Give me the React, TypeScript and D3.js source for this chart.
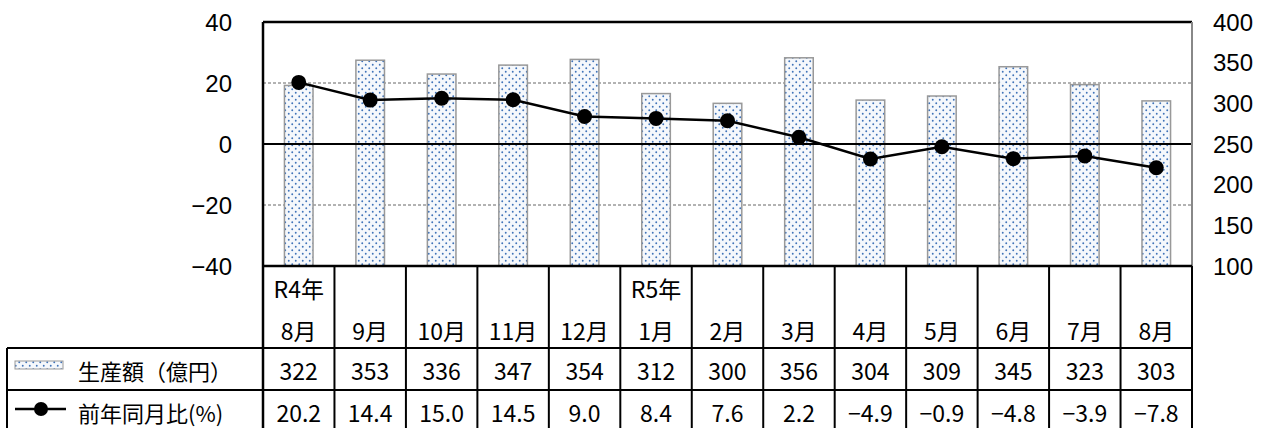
import React from 'react';
import * as d3 from 'd3';

// chart data
const yearLabels = ['R4年', '', '', '', '', 'R5年', '', '', '', '', '', '', ''];
const monthLabels = ['8月', '9月', '10月', '11月', '12月', '1月', '2月', '3月', '4月', '5月', '6月', '7月', '8月'];
const production = [322, 353, 336, 347, 354, 312, 300, 356, 304, 309, 345, 323, 303];
const yoy = [20.2, 14.4, 15.0, 14.5, 9.0, 8.4, 7.6, 2.2, -4.9, -0.9, -4.8, -3.9, -7.8];
const leftTicks = [40, 20, 0, -20, -40];
const rightTicks = [400, 350, 300, 250, 200, 150, 100];
const seriesNames = ['生産額（億円）', '前年同月比(%)'];

const W = 1265;
const H = 428;
const plotL = 263;
const plotR = 1192;
const plotT = 22;
const plotB = 266;
const headerB = 348;
const row1B = 390;
const row2B = 432;
const legendL = 7;

const fmtMinus = (v: number, digits: number) => {
  const s = Math.abs(v).toFixed(digits);
  return v < 0 ? '−' + s : s;
};

const App = () => {
  const idx = monthLabels.map((_, i) => String(i));
  const x = d3.scaleBand().domain(idx).range([plotL, plotR]).paddingInner(0).paddingOuter(0);
  const yL = d3.scaleLinear().domain([-40, 40]).range([plotB, plotT]);
  const yR = d3.scaleLinear().domain([100, 400]).range([plotB, plotT]);
  const bw = x.bandwidth();
  const barW = bw * 0.4;
  const cx = (i: number) => (x(String(i)) as number) + bw / 2;

  const line = d3.line<number>()
    .x((_, i) => cx(i))
    .y((d) => yL(d));

  const tableFont = '"Noto Sans CJK JP", "Noto Sans", sans-serif';
  const axisFont = '"Liberation Sans", Arial, sans-serif';
  const tSize = 23;

  return (
    <svg width={W} height={H} style={{ position: 'fixed', left: 0, top: 0, background: '#fff' }}>
      <defs>
        <pattern id="dots" width="7" height="7" patternUnits="userSpaceOnUse">
          <rect width="7" height="7" fill="#f5f8fc" />
          <circle cx="1.75" cy="1.75" r="0.95" fill="#3f72b8" />
          <circle cx="5.25" cy="5.25" r="0.95" fill="#3f72b8" />
        </pattern>
      </defs>

      {/* gridlines */}
      {leftTicks.filter((t) => t === 20 || t === -20).map((t) => (
        <line key={'g' + t} x1={plotL} x2={plotR} y1={yL(t)} y2={yL(t)}
          stroke="#666" strokeWidth={1} strokeDasharray="3,2" />
      ))}

      {/* bars */}
      {production.map((v, i) => (
        <rect key={'b' + i} x={cx(i) - barW / 2} y={yR(v)} width={barW} height={plotB - yR(v)}
          fill="url(#dots)" stroke="#999" strokeWidth={1.5} />
      ))}

      {/* zero line */}
      <line x1={plotL} x2={plotR} y1={yL(0)} y2={yL(0)} stroke="#000" strokeWidth={2} />

      {/* yoy line */}
      <path d={line(yoy) || ''} fill="none" stroke="#000" strokeWidth={2.5} />
      {yoy.map((v, i) => (
        <circle key={'p' + i} cx={cx(i)} cy={yL(v)} r={7.5} fill="#000" />
      ))}

      {/* plot frame */}
      <line x1={plotL} x2={plotR} y1={plotT} y2={plotT} stroke="#000" strokeWidth={2.5} />
      <line x1={plotR} x2={plotR} y1={plotT} y2={plotB} stroke="#888" strokeWidth={2} />
      <line x1={plotL} x2={plotL} y1={plotT} y2={row2B} stroke="#000" strokeWidth={2.5} />

      {/* left axis */}
      {leftTicks.map((t) => (
        <text key={'l' + t} x={232} y={yL(t)} textAnchor="end" dominantBaseline="central"
          fontFamily={axisFont} fontSize={24} fill="#000">{fmtMinus(t, 0)}</text>
      ))}

      {/* right axis */}
      {rightTicks.map((t) => (
        <text key={'r' + t} x={1213} y={yR(t)} textAnchor="start" dominantBaseline="central"
          fontFamily={axisFont} fontSize={24} fill="#000">{t}</text>
      ))}

      {/* data table lines */}
      <line x1={plotL} x2={plotR} y1={plotB} y2={plotB} stroke="#000" strokeWidth={2.5} />
      <line x1={legendL} x2={plotR} y1={headerB} y2={headerB} stroke="#000" strokeWidth={2} />
      <line x1={legendL} x2={plotR} y1={row1B} y2={row1B} stroke="#000" strokeWidth={2} />
      <line x1={legendL} x2={legendL} y1={headerB} y2={row2B} stroke="#000" strokeWidth={2} />
      {idx.map((k, i) => (
        <line key={'v' + i} x1={(x(k) as number) + bw} x2={(x(k) as number) + bw} y1={plotB} y2={row2B}
          stroke="#000" strokeWidth={2} />
      ))}

      {/* header labels */}
      {monthLabels.map((m, i) => (
        <g key={'h' + i} fontFamily={tableFont} fontSize={tSize} fill="#000">
          {yearLabels[i] && (
            <text x={cx(i)} y={288} textAnchor="middle" dominantBaseline="central">{yearLabels[i]}</text>
          )}
          <text x={cx(i)} y={330} textAnchor="middle" dominantBaseline="central">{m}</text>
        </g>
      ))}

      {/* values */}
      {production.map((v, i) => (
        <text key={'pv' + i} x={cx(i)} y={370} textAnchor="middle" dominantBaseline="central"
          fontFamily={tableFont} fontSize={tSize} fill="#000">{v}</text>
      ))}
      {yoy.map((v, i) => (
        <text key={'yv' + i} x={cx(i)} y={412} textAnchor="middle" dominantBaseline="central"
          fontFamily={tableFont} fontSize={tSize} fill="#000">{fmtMinus(v, 1)}</text>
      ))}

      {/* legend */}
      <rect x={15} y={361} width={48} height={8} fill="url(#dots)" stroke="#999" strokeWidth={1} />
      <line x1={15} x2={66} y1={409} y2={409} stroke="#000" strokeWidth={2.5} />
      <circle cx={41} cy={409} r={7} fill="#000" />
      <text x={78} y={370} dominantBaseline="central" fontFamily={tableFont} fontSize={22} fill="#000">{seriesNames[0]}</text>
      <text x={78} y={412} dominantBaseline="central" fontFamily={tableFont} fontSize={22} fill="#000">{seriesNames[1]}</text>
    </svg>
  );
};

export default App;
